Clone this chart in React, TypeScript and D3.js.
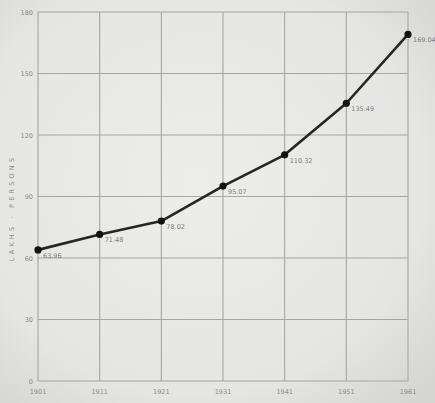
import React from "react";
import * as d3 from "d3";

const years = [1901, 1911, 1921, 1931, 1941, 1951, 1961];
const population = [63.96, 71.48, 78.02, 95.07, 110.32, 135.49, 169.04];
const pointLabels = ["63.96", "71.48", "78.02", "95.07", "110.32", "135.49", "169.04"];
const yTicks = [0, 30, 60, 90, 120, 150, 180];
const yTitle = "LAKHS · PERSONS";

export default function App() {
  const W = 435, H = 403;
  const x = d3.scaleLinear().domain([1901, 1961]).range([38, 408]);
  const y = d3.scaleLinear().domain([0, 180]).range([381, 12]);
  const line = d3.line<number>().x((_, i) => x(years[i])).y((d) => y(d));
  const grid = "#a6a6a4";
  return (
    <svg width={W} height={H} style={{ position: "absolute", left: 0, top: 0 }} fontFamily="DejaVu Sans">
      <defs>
        <radialGradient id="bg" cx="45%" cy="45%" r="75%">
          <stop offset="0%" stopColor="#ededeb" />
          <stop offset="70%" stopColor="#e5e5e3" />
          <stop offset="100%" stopColor="#d4d4d2" />
        </radialGradient>
      </defs>
      <rect width={W} height={H} fill="url(#bg)" />
      {yTicks.map((t) => (
        <g key={t}>
          <line x1={x(1901)} x2={x(1961)} y1={y(t)} y2={y(t)} stroke={grid} strokeWidth={1.1} />
          <text x={33} y={y(t) + 2.5} fontSize={6.5} fill="#8a8a88" textAnchor="end">{t}</text>
        </g>
      ))}
      {years.map((yr) => (
        <g key={yr}>
          <line x1={x(yr)} x2={x(yr)} y1={y(0)} y2={y(180)} stroke={grid} strokeWidth={1.1} />
          <text x={x(yr)} y={394} fontSize={6.5} fill="#8a8a88" textAnchor="middle">{yr}</text>
        </g>
      ))}
      <text transform={`translate(14,208) rotate(-90)`} fontSize={6.5} fill="#8a8a88" textAnchor="middle" letterSpacing={3.2}>{yTitle}</text>
      <path d={line(population) || ""} fill="none" stroke="#262626" strokeWidth={2.6} strokeLinejoin="round" />
      {population.map((v, i) => (
        <g key={i}>
          <circle cx={x(years[i])} cy={y(v)} r={3.6} fill="#111" />
          <text x={x(years[i]) + 5} y={y(v) + 8} fontSize={6.5} fill="#7c7c7a">{pointLabels[i]}</text>
        </g>
      ))}
    </svg>
  );
}
